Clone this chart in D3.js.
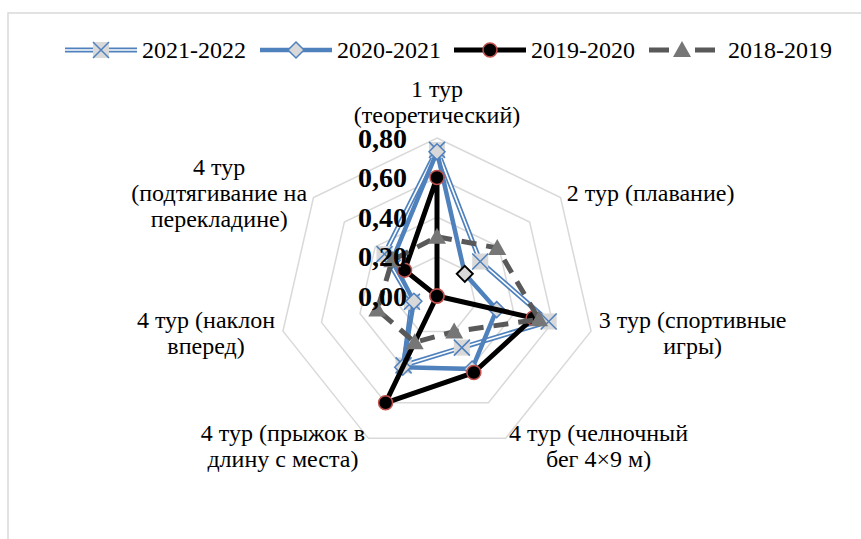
<!DOCTYPE html>
<html>
<head>
<meta charset="utf-8">
<script src="https://cdn.jsdelivr.net/npm/d3@7"></script>
<style>
  body { margin: 0; background: #fff; }
</style>
</head>
<body>
<div id="chart-area"></div>
<script>
const categories = [
  ["1 тур", "(теоретический)"],
  ["2 тур (плавание)"],
  ["3 тур (спортивные", "игры)"],
  ["4 тур (челночный", "бег 4×9 м)"],
  ["4 тур (прыжок в", "длину с места)"],
  ["4 тур (наклон", "вперед)"],
  ["4 тур", "(подтягивание на", "перекладине)"]
];
const tickValues = [0, 0.2, 0.4, 0.6, 0.8];
const seriesNames = ["2021-2022", "2020-2021", "2019-2020", "2018-2019"];
const v2122 = [0.74, 0.28, 0.58, 0.29, 0.39, 0.13, 0.34];
const v2021 = [0.73, 0.18, 0.31, 0.41, 0.40, 0.12, 0.29];
const v1920 = [0.60, 0.00, 0.50, 0.43, 0.60, 0.00, 0.21];
const v1819 = [0.30, 0.39, 0.53, 0.20, 0.26, 0.31, 0.29];

const svgWidth = 861, svgHeight = 539;
const cx = 437, cy = 296, radius = 158;
const blue = "#4f81bd", grey = "#d9d9d9";
const serif = "'Liberation Serif', 'Times New Roman', Times, serif";

const svg = d3.select("#chart-area")
              .append("svg")
              .attr("width", svgWidth)
              .attr("height", svgHeight)
              .style("font-family", serif);

svg.append("rect")
   .attr("x", 8).attr("y", 13)
   .attr("width", 900).attr("height", 600)
   .attr("fill", "#fff")
   .attr("stroke", "#d9d9d9")
   .attr("stroke-width", 1.5);

const g = svg.append("g").attr("transform", `translate(${cx},${cy})`);

const r = d3.scaleLinear().domain([0, 0.8]).range([0, radius]);
const angle = d3.scaleLinear().domain([0, categories.length]).range([0, 2 * Math.PI]);
const pt = (i, v) => [Math.sin(angle(i)) * r(v), -Math.cos(angle(i)) * r(v)];

const radar = d3.lineRadial()
                .angle((d, i) => angle(i))
                .radius(d => r(d))
                .curve(d3.curveLinearClosed);

// grid
tickValues.slice(1).forEach(t => {
  g.append("path")
   .attr("d", radar(categories.map(() => t)))
   .attr("fill", "none")
   .attr("stroke", grey)
   .attr("stroke-width", 1.5);
});

// series
function drawLine(sel, vals, style) {
  const d = radar(vals);
  style.forEach(s => {
    sel.append("path").attr("d", d).attr("fill", "none")
       .attr("stroke", s.c).attr("stroke-width", s.w)
       .attr("stroke-dasharray", s.dash || null)
       .attr("stroke-linejoin", "round");
  });
}

const styles = [
  [{ c: blue, w: 5 }, { c: "#fff", w: 1.6 }],
  [{ c: blue, w: 4.5 }],
  [{ c: "#000", w: 5 }],
  [{ c: "#595959", w: 5, dash: "15,10" }]
];

function marker(sel, k, x, y, special) {
  if (k === 0) {
    sel.append("rect").attr("x", x - 8).attr("y", y - 8).attr("width", 16).attr("height", 16)
       .attr("fill", grey);
    sel.append("path").attr("d", `M${x-8},${y-8}L${x+8},${y+8}M${x+8},${y-8}L${x-8},${y+8}`)
       .attr("stroke", blue).attr("stroke-width", 1.5);
  } else if (k === 1) {
    sel.append("path").attr("d", `M${x},${y-8}L${x+8},${y}L${x},${y+8}L${x-8},${y}Z`)
       .attr("fill", grey).attr("stroke", special ? "#000" : blue).attr("stroke-width", special ? 2 : 1.5);
  } else if (k === 2) {
    sel.append("circle").attr("cx", x).attr("cy", y).attr("r", 7)
       .attr("fill", "#000").attr("stroke", "#c0504d").attr("stroke-width", 1.5);
  } else {
    sel.append("path").attr("d", `M${x},${y-9}L${x+9},${y+7}L${x-9},${y+7}Z`)
       .attr("fill", "#767676");
  }
}

[v2122, v2021, v1920, v1819].forEach((vals, k) => {
  const sg = g.append("g");
  drawLine(sg, vals, styles[k]);
  vals.forEach((v, i) => {
    const [x, y] = pt(i, v);
    marker(sg, k, x, y, k === 1 && i === 1);
  });
});

// tick labels
g.selectAll(".tick-label")
 .data(tickValues)
 .enter()
 .append("text")
   .attr("class", "tick-label")
   .attr("x", -30)
   .attr("y", d => -r(d))
   .attr("dy", "0.35em")
   .attr("text-anchor", "end")
   .attr("font-family", serif)
   .attr("font-size", 28)
   .attr("font-weight", "bold")
   .text(d => d3.format(".2f")(d).replace(".", ","));

// category labels
const lineH = 26;
categories.forEach((lines, i) => {
  const a = angle(i);
  const [px, py] = [Math.sin(a) * (radius + 8), -Math.cos(a) * (radius + 8)];
  const lg = g.append("g");
  const t = lg.append("text")
              .attr("font-family", serif)
              .attr("font-size", 24)
              .attr("text-anchor", "middle");
  lines.forEach((ln, j) => {
    t.append("tspan").attr("x", 0).attr("y", j * lineH).attr("dy", "0.35em").text(ln);
  });
  const w = t.node().getBBox().width;
  const h = lines.length * lineH;
  let ox = 0, oy = -(h - lineH) / 2;
  if (Math.abs(Math.sin(a)) < 0.1) {
    oy = -h + lineH / 2 - 2;
  } else if (Math.sin(a) > 0) {
    ox = w / 2;
  } else {
    ox = -w / 2;
  }
  lg.attr("transform", `translate(${px + ox},${py + oy})`);
});

// legend
const legendX = [65, 260, 454, 649];
const legendY = 50;
seriesNames.forEach((name, k) => {
  const lg = svg.append("g");
  const x0 = legendX[k];
  const len = k === 3 ? 66 : 72;
  const d = `M${x0},${legendY}L${x0 + len},${legendY}`;
  styles[k].forEach(s => {
    lg.append("path").attr("d", d).attr("stroke", s.c).attr("stroke-width", s.w)
      .attr("stroke-dasharray", k === 3 ? "20,26" : null);
  });
  marker(lg, k, x0 + len / 2, legendY, false);
  lg.append("text")
    .attr("x", x0 + len + (k === 3 ? 13 : 5))
    .attr("y", legendY)
    .attr("dy", "0.35em")
    .attr("font-family", serif)
    .attr("font-size", 24)
    .text(name);
});
</script>
</body>
</html>
